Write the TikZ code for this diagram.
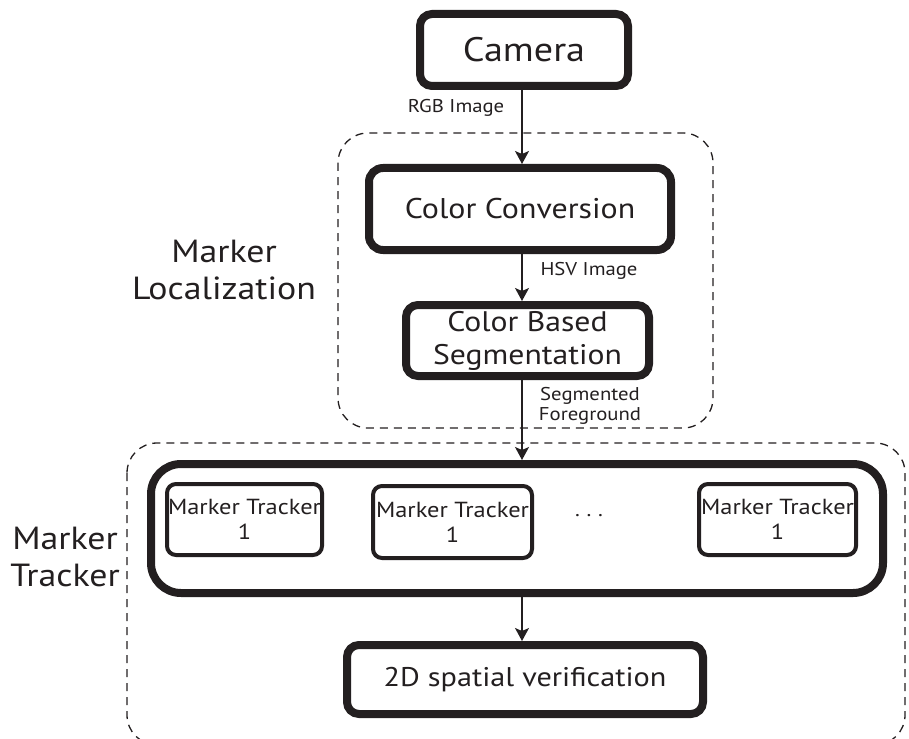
\documentclass[tikz,border=0pt]{standalone}
\usepackage{fontspec}
\setmainfont{PT Sans}[FakeStretch=1.12]
\usetikzlibrary{arrows.meta}
\definecolor{ink}{HTML}{231F20}
\begin{document}
\begin{tikzpicture}[x=1pt,y=-1pt,
  thickbox/.style={draw=ink, line width=8pt, rounded corners=12pt, inner sep=0pt, align=center, text=ink, fill=white},
  thinbox/.style={draw=ink, line width=4pt, rounded corners=9pt, inner sep=0pt, align=center, text=ink, fill=white,
    font=\fontsize{21.8}{25}\selectfont},
  group/.style={draw=ink, line width=1.3pt, dash pattern=on 8pt off 6pt, rounded corners=30pt},
  flow/.style={draw=ink, line width=1.3pt, -{Stealth[length=13pt,width=14pt,inset=3pt]}},
  lbl/.style={text=ink, inner sep=0pt, align=center},
  small/.style={lbl, font=\fontsize{18.5}{20}\selectfont},
  big/.style={lbl, font=\fontsize{32}{37}\selectfont}
]
\clip (0,0) rectangle (909,738);

% group frames
\draw[group] (338,133) rectangle (713,428);
\draw[group] (127,443) rectangle (905,745);

% main boxes
\node[thickbox, minimum width=208pt, minimum height=72pt, font=\fontsize{34}{40}\selectfont] (cam) at (524,50) {Camera};
\node[thickbox, rounded corners=14pt, minimum width=302pt, minimum height=82pt, font=\fontsize{28.5}{33}\selectfont] (cc) at (520,209) {Color Conversion};
\node[thickbox, minimum width=243pt, minimum height=71pt, font=\fontsize{28.3}{33}\selectfont] (cbs) at (527.5,340.5) {Color Based\\Segmentation};
\node[thickbox, rounded corners=30pt, minimum width=732pt, minimum height=129pt] (trk) at (517,528.5) {};
\node[thinbox, minimum width=155pt, minimum height=71pt] (mt1) at (244.5,519.5) {Marker Tracker\\1};
\node[thinbox, minimum width=159pt, minimum height=72pt] (mt2) at (452.5,522) {Marker Tracker\\1};
\node[thinbox, minimum width=157pt, minimum height=71pt] (mt3) at (777.5,519.5) {Marker Tracker\\1};
\node[lbl, font=\fontsize{20}{25}\selectfont] (dots) at (589,516) {.\,\,.\,\,.};
\node[thickbox, minimum width=356pt, minimum height=69pt, font=\fontsize{27}{30}\selectfont] (vd) at (525,679.5) {2D spatial verification};

% labels
\node[small] (rgb) at (456,108) {RGB Image};
\node[small] (hsv) at (589,271) {HSV Image};
\node[small] (seg) at (590,406) {Segmented\\Foreground};
\node[big] (ml) at (224,270) {Marker\\Localization};
\node[big] (mtl) at (65,557) {Marker\\Tracker};

% connectors
\coordinate (ax) at (522,0);
\draw[flow] (cam.south -| ax) -- (cc.north -| ax);
\draw[flow] (cc.south -| ax) -- (cbs.north -| ax);
\draw[flow] (cbs.south -| ax) -- (trk.north -| ax);
\draw[flow] (trk.south -| ax) -- (vd.north -| ax);
\end{tikzpicture}
\end{document}
